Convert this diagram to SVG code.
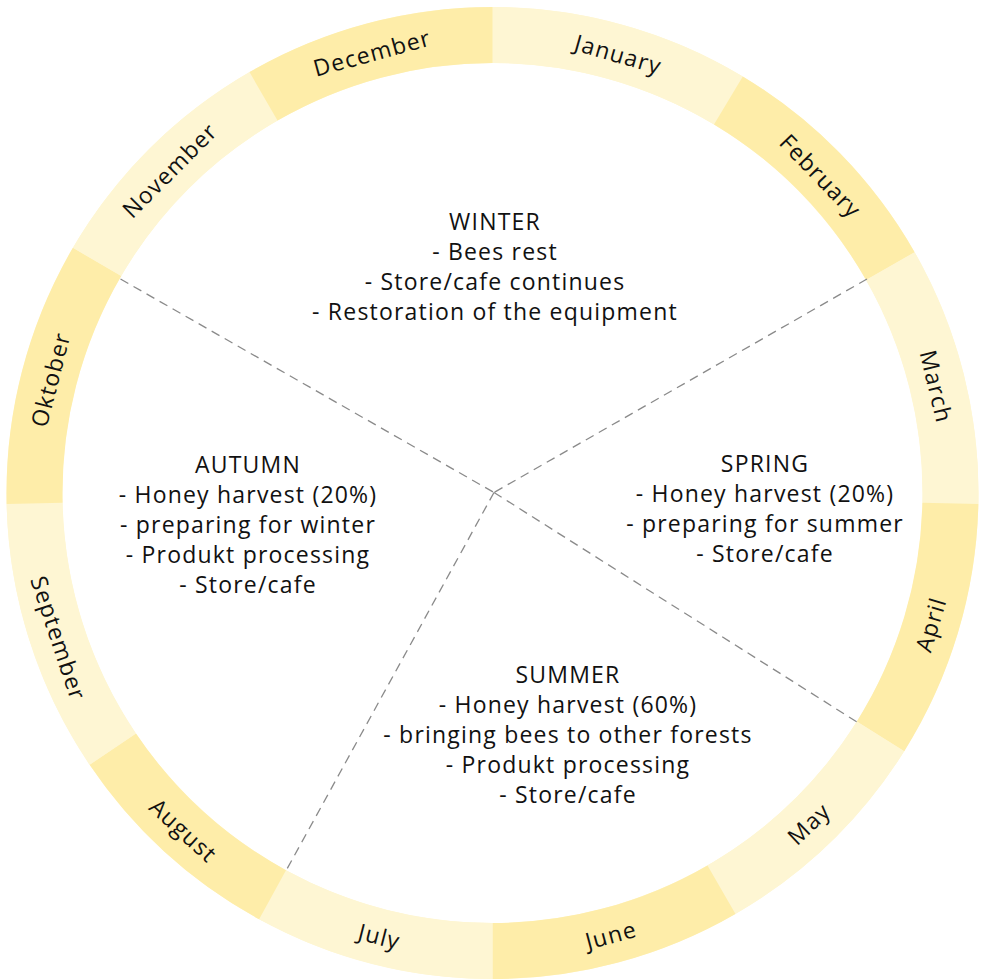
<svg xmlns="http://www.w3.org/2000/svg" width="988" height="980" viewBox="0 0 988 980">
<style>
.lt{fill:#FEF6D3}
.dk{fill:#FEEDA9}
.m{font-family:"Open Sans","Liberation Sans",sans-serif;font-size:23px;letter-spacing:1.2px;fill:#111;text-anchor:middle;dominant-baseline:central}
.s{font-family:"Open Sans","Liberation Sans",sans-serif;font-size:23px;letter-spacing:1.2px;fill:#111;text-anchor:middle}
.dash{stroke:#8a8a8a;stroke-width:1.3;stroke-dasharray:9 6;fill:none}
</style>
<rect width="988" height="980" fill="#ffffff"/>
<path class="lt" d="M492.5,7 A486,486 0 1 1 492.5,979 A486,486 0 1 1 492.5,7 Z M492.5,63 A430,430 0 1 0 492.5,923 A430,430 0 1 0 492.5,63 Z" fill-rule="evenodd"/>
<g id="january"><path class="lt" d="M492.5,7 A486,486 0 0 1 742.81,76.42 L713.97,124.42 A430,430 0 0 0 492.5,63 Z"/><text class="m" transform="translate(618.5,53.7) rotate(16)">January</text></g>
<g id="february"><path class="dk" d="M742.81,76.42 A486,486 0 0 1 914.65,252.21 L866.01,279.95 A430,430 0 0 0 713.97,124.42 Z"/><text class="m" transform="translate(821.2,175.5) rotate(46)">February</text></g>
<g id="march"><path class="lt" d="M914.65,252.21 A486,486 0 0 1 978.37,504.03 L922.39,502.76 A430,430 0 0 0 866.01,279.95 Z"/><text class="m" transform="translate(936.9,386.3) rotate(76.5)">March</text></g>
<g id="april"><path class="dk" d="M978.37,504.03 A486,486 0 0 1 904.28,751.14 L856.83,721.39 A430,430 0 0 0 922.39,502.76 Z"/><text class="m" transform="translate(930.2,624.3) rotate(-73.3)">April</text></g>
<g id="may"><path class="lt" d="M904.28,751.14 A486,486 0 0 1 735.5,913.89 L707.5,865.39 A430,430 0 0 0 856.83,721.39 Z"/><text class="m" transform="translate(808.4,823.2) rotate(-43.7)">May</text></g>
<g id="june"><path class="dk" d="M735.5,913.89 A486,486 0 0 1 492.5,979 L492.5,923 A430,430 0 0 0 707.5,865.39 Z"/><text class="m" transform="translate(610.8,934.4) rotate(-15)">June</text></g>
<g id="july"><path class="lt" d="M492.5,979 A486,486 0 0 1 259.11,919.29 L286.01,870.17 A430,430 0 0 0 492.5,923 Z"/><text class="m" transform="translate(379.6,935.8) rotate(14.3)">July</text></g>
<g id="august"><path class="dk" d="M259.11,919.29 A486,486 0 0 1 89.59,764.77 L136.01,733.45 A430,430 0 0 0 286.01,870.17 Z"/><text class="m" transform="translate(183.8,829.9) rotate(42.5)">August</text></g>
<g id="september"><path class="lt" d="M89.59,764.77 A486,486 0 0 1 6.63,504.03 L62.61,502.76 A430,430 0 0 0 136.01,733.45 Z"/><text class="m" transform="translate(59.1,638) rotate(71.5)">September</text></g>
<g id="oktober"><path class="dk" d="M6.63,504.03 A486,486 0 0 1 72.89,247.8 L121.24,276.05 A430,430 0 0 0 62.61,502.76 Z"/><text class="m" transform="translate(49.9,379.3) rotate(-75.6)">Oktober</text></g>
<g id="november"><path class="lt" d="M72.89,247.8 A486,486 0 0 1 249.5,72.11 L277.5,120.61 A430,430 0 0 0 121.24,276.05 Z"/><text class="m" transform="translate(169.3,169.8) rotate(-45)">November</text></g>
<g id="december"><path class="dk" d="M249.5,72.11 A486,486 0 0 1 492.5,7 L492.5,63 A430,430 0 0 0 277.5,120.61 Z"/><text class="m" transform="translate(371.9,52.2) rotate(-15.3)">December</text></g>
<g id="connectors">
<line class="dash" x1="120.5" y1="279" x2="494" y2="492.5"/>
<line class="dash" x1="494" y1="492.5" x2="857" y2="722"/>
<line class="dash" x1="867" y1="279" x2="494" y2="492.5"/>
<line class="dash" x1="494" y1="492.5" x2="287" y2="869"/>
</g>
<g id="winter"><text class="s"><tspan x="495" y="229.5">WINTER</tspan><tspan x="495" y="259.5">- Bees rest</tspan><tspan x="495" y="289.5">- Store/cafe continues</tspan><tspan x="495" y="319.5">- Restoration of the equipment</tspan></text></g>
<g id="spring"><text class="s"><tspan x="765" y="472">SPRING</tspan><tspan x="765" y="502">- Honey harvest (20%)</tspan><tspan x="765" y="532">- preparing for summer</tspan><tspan x="765" y="562">- Store/cafe</tspan></text></g>
<g id="autumn"><text class="s"><tspan x="248" y="473">AUTUMN</tspan><tspan x="248" y="503">- Honey harvest (20%)</tspan><tspan x="248" y="533">- preparing for winter</tspan><tspan x="248" y="563">- Produkt processing</tspan><tspan x="248" y="593">- Store/cafe</tspan></text></g>
<g id="summer"><text class="s"><tspan x="568" y="683">SUMMER</tspan><tspan x="568" y="713">- Honey harvest (60%)</tspan><tspan x="568" y="743">- bringing bees to other forests</tspan><tspan x="568" y="773">- Produkt processing</tspan><tspan x="568" y="803">- Store/cafe</tspan></text></g>
</svg>
